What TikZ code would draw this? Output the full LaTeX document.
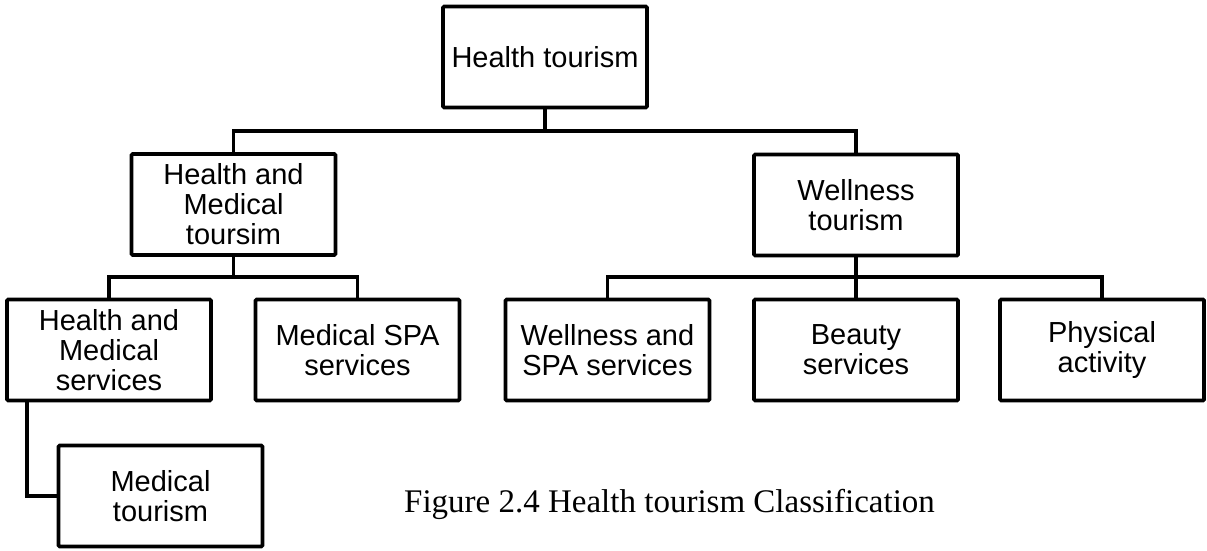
\documentclass[tikz,border=0pt]{standalone}
\usepackage{fontspec}
\setmainfont{Liberation Sans}
\newfontfamily\captionfont{Liberation Serif}
\begin{document}
\begin{tikzpicture}[x=1pt,y=1pt,
  catbox/.style={draw=black, line width=3.8pt, rounded corners=1.2pt, fill=white,
    minimum width=204pt, minimum height=101pt, align=center, inner sep=2pt,
    font=\fontsize{29}{30}\selectfont},
  link/.style={draw=black, line width=3.6pt, line join=miter}]
\useasboundingbox (0,0) rectangle (1207,550);

% top level
\node[catbox] (ht)  at (545,493)   {Health tourism};
% second level
\node[catbox] (hmt) at (233.5,345.5) {Health and\\Medical\\toursim};
\node[catbox] (wt)  at (856,345)   {Wellness\\tourism};
% third level
\node[catbox] (hms) at (109,200)   {Health and\\Medical\\services};
\node[catbox] (msp) at (357.5,200) {Medical SPA\\services};
\node[catbox] (wsp) at (607.5,200) {Wellness and\\SPA services};
\node[catbox] (bs)  at (856,200)   {Beauty\\services};
\node[catbox] (pa)  at (1102,200)  {Physical\\activity};
% fourth level
\node[catbox] (mt)  at (160.5,54)  {Medical\\tourism};

% branch levels
\coordinate (b1) at (545,419);
\coordinate (b2) at (233.5,273);
\coordinate (b3) at (856,273);
\coordinate (b4) at (27,54);

\draw[link] (ht.south) -- (b1);
\draw[link] (hmt.north) |- (b1) -| (wt.north);
\draw[link] (hmt.south) -- (b2);
\draw[link] (hms.north) |- (b2) -| (msp.north);
\draw[link] (wt.south) -- (b3);
\draw[link] (wsp.north) |- (b3) -| (pa.north);
\draw[link] (bs.north) -- (b3);
\draw[link] (hms.south -| b4) -- (b4) -- (mt.west);

\node[anchor=base west, inner sep=0pt, font=\captionfont\fontsize{33}{38}\selectfont]
  (cap) at (404,38) {Figure 2.4 Health tourism Classification};
\end{tikzpicture}
\end{document}
